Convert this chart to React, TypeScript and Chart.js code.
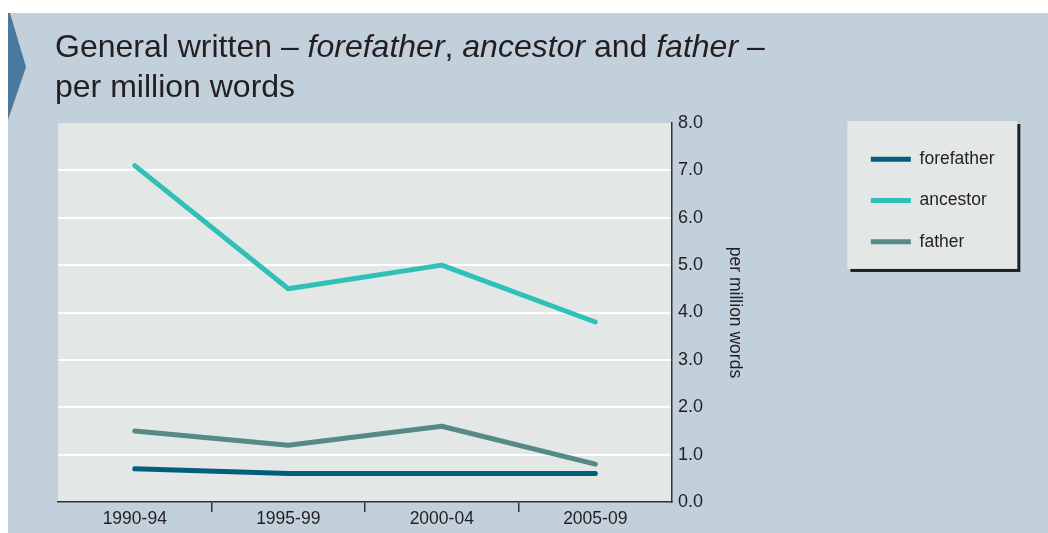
import React, { useEffect, useRef } from 'react';
import { Chart, registerables } from 'chart.js';

Chart.register(...registerables);

const categories = ['1990-94', '1995-99', '2000-04', '2005-09'];
const forefatherValues = [0.7, 0.6, 0.6, 0.6];
const ancestorValues = [7.1, 4.5, 5.0, 3.8];
const fatherValues = [1.5, 1.2, 1.6, 0.8];
const seriesNames = ['forefather', 'ancestor', 'father'];
const yAxisTitle = 'per million words';

const PANEL_BG = '#c1d0da';
const PLOT_BG = '#e3e7e6';
const TEXT = '#231f20';
const AXIS = '#333333';
const NARROW = "'Liberation Sans Narrow', 'Arial Narrow', 'Liberation Sans', Arial, sans-serif";

const CANVAS_W = 1040;
const CANVAS_H = 520;
const PAD_RIGHT = 43.5;
const AREA_RIGHT = 664;

const bgPlugin = {
  id: 'panelBackgrounds',
  beforeDraw(chart: any) {
    const { ctx, chartArea: a, legend } = chart;
    ctx.save();
    ctx.fillStyle = PLOT_BG;
    ctx.fillRect(a.left, a.top, a.right - a.left, a.bottom - a.top);
    const hb = legend && legend.legendHitBoxes;
    if (hb && hb.length) {
      const x0 = hb[0].left - 23.5;
      const x1 = hb[0].left + 146.5;
      const y0 = hb[0].top - 29.5;
      const y1 = hb[hb.length - 1].top + 36;
      ctx.fillStyle = '#1f1f1f';
      ctx.fillRect(x0 + 3, y0 + 3, x1 - x0, y1 - y0);
      ctx.fillStyle = PLOT_BG;
      ctx.fillRect(x0, y0, x1 - x0, y1 - y0);
    }
    ctx.restore();
  },
};

export default function App() {
  const ref = useRef<HTMLCanvasElement>(null);

  useEffect(() => {
    if (!ref.current) return;
    const chart = new Chart(ref.current, {
      type: 'line',
      data: {
        labels: categories,
        datasets: [
          { label: seriesNames[0], data: forefatherValues, borderColor: '#005f7d', backgroundColor: '#005f7d' },
          { label: seriesNames[1], data: ancestorValues, borderColor: '#2fc0b7', backgroundColor: '#2fc0b7' },
          { label: seriesNames[2], data: fatherValues, borderColor: '#568a86', backgroundColor: '#568a86' },
        ].map((d) => ({
          ...d,
          borderWidth: 5,
          borderCapStyle: 'round' as const,
          borderJoinStyle: 'round' as const,
          pointRadius: 0,
          pointHoverRadius: 0,
          tension: 0,
          fill: false,
        })),
      },
      options: {
        responsive: false,
        animation: false,
        layout: { padding: { top: 110, left: 50, right: PAD_RIGHT, bottom: 0 } },
        plugins: {
          title: { display: false },
          tooltip: { enabled: false },
          legend: {
            display: true,
            position: 'right',
            align: 'start',
            title: { display: true, text: ' ', padding: 0, font: { size: 3.85, lineHeight: 1 } },
            labels: {
              usePointStyle: true,
              pointStyle: 'line',
              pointStyleWidth: 40,
              padding: 23.7,
              color: TEXT,
              font: { family: NARROW, size: 17.5, lineHeight: 1 },
            },
          },
        },
        scales: {
          x: {
            type: 'category',
            offset: true,
            grid: {
              offset: true,
              drawOnChartArea: false,
              drawTicks: true,
              tickLength: 10,
              lineWidth: 1.5,
              color: (ctx: any) =>
                ctx.type !== 'tick' || ctx.index === 0 ? 'rgba(0,0,0,0)' : AXIS,
            },
            border: { display: true, color: AXIS, width: 1.5 },
            ticks: { color: TEXT, padding: -1.5, font: { family: NARROW, size: 17.5, lineHeight: 1 } },
            afterFit: (scale: any) => {
              scale.height = 31;
            },
          },
          y: {
            position: 'right',
            min: 0,
            max: 8,
            grid: {
              drawTicks: false,
              lineWidth: 2,
              color: (ctx: any) =>
                ctx.tick && (ctx.tick.value === 0 || ctx.tick.value === 8) ? 'rgba(0,0,0,0)' : '#ffffff',
            },
            border: { display: true, color: AXIS, width: 1.5 },
            ticks: {
              stepSize: 1,
              padding: 6,
              color: TEXT,
              font: { family: NARROW, size: 18, lineHeight: 1 },
              callback: (v: any) => Number(v).toFixed(1),
            },
            title: {
              display: true,
              text: yAxisTitle,
              color: TEXT,
              padding: { top: 103.3, bottom: 0 },
              font: { family: NARROW, size: 17.5, lineHeight: 1 },
            },
            afterFit: (scale: any) => {
              const lw = scale.chart.legend ? scale.chart.legend.width : 150;
              scale.width = CANVAS_W - PAD_RIGHT - lw - AREA_RIGHT;
            },
          },
        },
      },
      plugins: [bgPlugin],
    } as any);
    return () => chart.destroy();
  }, []);

  return (
    <div
      style={{
        position: 'absolute',
        left: 8,
        top: 13,
        width: CANVAS_W,
        height: CANVAS_H,
        background: PANEL_BG,
        overflow: 'hidden',
      }}
    >
      <canvas
        ref={ref}
        width={CANVAS_W}
        height={CANVAS_H}
        style={{ position: 'absolute', left: 0, top: 0, width: CANVAS_W, height: CANVAS_H }}
      />
      <div
        style={{
          position: 'absolute',
          left: 0,
          top: 0,
          width: 18,
          height: 107,
          background: '#4a79a0',
          clipPath: 'polygon(0 0, 2px 0, 18px 54px, 0 107px)',
        }}
      />
      <div
        style={{
          position: 'absolute',
          left: 47,
          top: 12.6,
          fontFamily: "'Liberation Sans', Arial, sans-serif",
          fontSize: 32,
          lineHeight: '40px',
          color: TEXT,
          whiteSpace: 'nowrap',
        }}
      >
        General written – <i>forefather</i>, <i>ancestor</i> and <i>father</i> –
        <br />
        per million words
      </div>
    </div>
  );
}
